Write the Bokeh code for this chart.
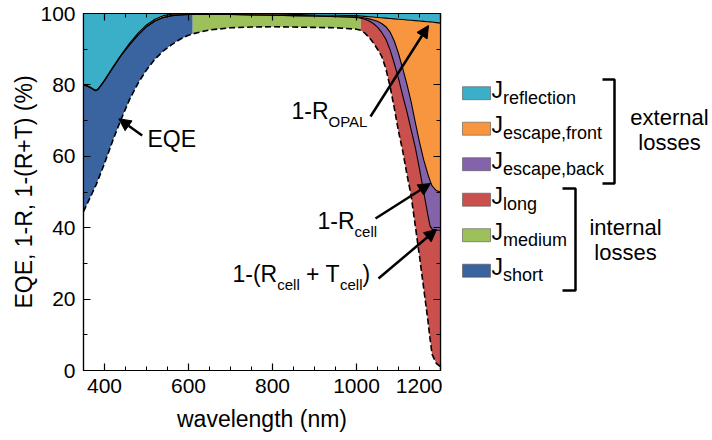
import numpy as np
from bokeh.plotting import figure
from bokeh.models import Range1d, LinearAxis, Arrow, NormalHead, SingleIntervalTicker, CustomJSTickFormatter
from bokeh.layouts import row
from bokeh.embed import file_html
from bokeh.resources import INLINE
from bokeh.core.properties import value

# ---------------- data ----------------
wavelength = [350, 360, 370, 375, 380, 385, 390, 400, 420, 440, 460, 480, 500, 520, 540, 560, 580, 600,
              610, 650, 700, 750, 800, 850, 900, 950, 1000, 1010, 1020, 1030, 1040, 1050, 1060, 1070,
              1080, 1090, 1100, 1110, 1120, 1130, 1140, 1150, 1160, 1170, 1175, 1180, 1190, 1200]

eqe = [44.5, 47.0, 49.5, 50.8, 52.0, 53.5, 55.0, 58.0, 64.5, 70.5, 76.0, 80.5, 84.2, 87.2, 89.5, 91.3, 92.8, 93.9,
       94.3, 95.4, 96.0, 96.2, 96.3, 96.2, 96.1, 96.0, 95.6, 95.3, 94.5, 93.3, 91.8, 90.0, 88.0, 84.5,
       79.5, 73.5, 67.0, 61.5, 55.0, 49.0, 40.5, 32.0, 23.0, 14.0, 9.0, 4.5, 2.0, 1.0]

one_minus_RT = [80.0, 79.6, 79.0, 78.6, 78.4, 78.8, 79.6, 81.2, 84.8, 88.3, 91.3, 94.0, 96.3, 97.9, 98.9, 99.4, 99.6, 99.7,
                99.7, 99.7, 99.7, 99.6, 99.5, 99.4, 99.3, 99.1, 98.9, 98.7, 98.4, 97.9, 97.2, 96.2, 94.7, 92.8,
                89.8, 86.0, 81.8, 77.0, 72.5, 67.5, 62.5, 56.5, 50.0, 43.5, 40.5, 39.6, 39.3, 39.3]

one_minus_Rcell = [80.0, 79.6, 79.0, 78.6, 78.4, 78.8, 79.6, 81.2, 84.8, 88.3, 91.3, 94.0, 96.3, 97.9, 98.9, 99.4, 99.6, 99.7,
                   99.7, 99.7, 99.7, 99.6, 99.5, 99.4, 99.3, 99.15, 99.1, 98.95, 98.75, 98.5, 98.2, 97.8, 97.2, 96.3,
                   94.8, 92.3, 88.8, 84.6, 80.2, 75.3, 69.5, 64.0, 59.0, 55.0, 53.2, 51.7, 50.4, 50.0]

one_minus_Ropal = [80.1, 79.7, 79.1, 78.7, 78.5, 78.9, 79.7, 81.3, 85.0, 88.5, 91.7, 94.5, 96.8, 98.4, 99.4, 99.8, 99.9, 99.95,
                   99.95, 99.95, 99.95, 99.9, 99.85, 99.75, 99.6, 99.5, 99.4, 99.3, 99.2, 99.1, 99.0, 98.9, 98.8, 98.7,
                   98.6, 98.5, 98.4, 98.3, 98.2, 98.1, 98.0, 97.9, 97.8, 97.7, 97.65, 97.6, 97.45, 97.3]

short_end = 610     # nm, boundary J_short / J_medium
medium_end = 1010   # nm, boundary J_medium / J_long

legend_keys = ["reflection", "escape,front", "escape,back", "long", "medium", "short"]
legend_colors = ["#3BAFC8", "#F7963F", "#8563AA", "#C9504C", "#9CC15B", "#3964A0"]
C_REFL, C_FRONT, C_BACK, C_LONG, C_MED, C_SHORT = legend_colors

x_tick_interval = 200
y_tick_interval = 20

FONT = "Liberation Sans"

# ---------------- main plot ----------------
W1 = 442
wl = np.array(wavelength, dtype=float)
e = np.array(eqe)
art = np.array(one_minus_RT)
rc = np.array(one_minus_Rcell)
ro = np.array(one_minus_Ropal)

p = figure(width=W1, height=440, x_range=Range1d(350, 1200), y_range=Range1d(0, 100),
           output_backend="svg", toolbar_location=None,
           min_border_left=83, min_border_right=2, min_border_top=13, min_border_bottom=70)
p.xgrid.visible = False
p.ygrid.visible = False
p.outline_line_color = "black"
p.outline_line_width = 1.2

m_s = wl <= short_end
m_m = (wl >= short_end) & (wl <= medium_end)
m_l = wl >= medium_end
p.varea(x=wl[m_s], y1=e[m_s], y2=art[m_s], fill_color=C_SHORT)
p.varea(x=wl[m_m], y1=e[m_m], y2=art[m_m], fill_color=C_MED)
p.varea(x=wl[m_l], y1=e[m_l], y2=art[m_l], fill_color=C_LONG)
p.varea(x=wl, y1=art, y2=rc, fill_color=C_BACK)
p.varea(x=wl, y1=rc, y2=ro, fill_color=C_FRONT)
p.varea(x=wl, y1=ro, y2=[100] * len(wl), fill_color=C_REFL)

p.line(wl, ro, line_color="black", line_width=1.1)
p.line(wl, rc, line_color="black", line_width=1.1)
p.line(wl, art, line_color="black", line_width=1.1)
p.line(wl, e, line_color="black", line_width=1.6, line_dash="6 3")


def style_axis(ax, labels=True):
    ax.axis_line_color = "black"
    ax.axis_line_width = 1.2
    ax.major_tick_in = 7
    ax.major_tick_out = 0
    ax.minor_tick_in = 4
    ax.minor_tick_out = 0
    ax.major_tick_line_color = "black"
    ax.minor_tick_line_color = "black"
    ax.major_tick_line_width = 1.2
    ax.minor_tick_line_width = 1.0
    if labels:
        ax.major_label_text_font = FONT
        ax.major_label_text_font_size = "21px"
        ax.major_label_text_color = "black"
        ax.axis_label_text_font = FONT
        ax.axis_label_text_font_size = "23px"
        ax.axis_label_text_font_style = "normal"
        ax.axis_label_text_color = "black"
    else:
        ax.formatter = CustomJSTickFormatter(code="return ''")
        ax.major_label_text_font_size = "2px"
        ax.major_label_standoff = 0


xt = SingleIntervalTicker(interval=x_tick_interval, num_minor_ticks=4)
yt = SingleIntervalTicker(interval=y_tick_interval, num_minor_ticks=2)
p.xaxis.ticker = xt
p.yaxis.ticker = yt
p.xaxis.axis_label = "wavelength (nm)"
p.yaxis.axis_label = "EQE, 1-R, 1-(R+T) (%)"
for ax in p.xaxis + p.yaxis:
    style_axis(ax)
p.xaxis.major_label_standoff = 8
p.xaxis.axis_label_standoff = 10
p.yaxis.major_label_standoff = 8
p.yaxis.axis_label_standoff = 0

top_ax = LinearAxis(ticker=SingleIntervalTicker(interval=x_tick_interval, num_minor_ticks=4))
right_ax = LinearAxis(ticker=SingleIntervalTicker(interval=y_tick_interval, num_minor_ticks=2))
style_axis(top_ax, labels=False)
style_axis(right_ax, labels=False)
p.add_layout(top_ax, "above")
p.add_layout(right_ax, "right")

# pixel -> data helpers for annotation placement
def dx(px):
    return 350 + (px - 83) / (357 / 850)

def dy(py):
    return (370 - py) / 3.57

ARIAL = {"1": .556, "-": .333, "(": .333, ")": .333, "R": .722, "T": .611, "+": .584, " ": .278,
         "c": .5, "e": .556, "l": .222, "O": .778, "P": .667, "A": .667, "L": .556, "J": .5}

def tw(s, size):
    return sum(ARIAL.get(ch, .556) for ch in s) * size

BIG, SUB = 23, 15
SHIFT = 0.42  # empirical baseline correction (fraction of font size)

def rich(fig, x0, base, parts, xf=lambda v: v, yf=lambda v: v, big=BIG, sub=SUB, drop=7):
    x = x0
    for txt, is_sub in parts:
        size = sub if is_sub else big
        lead = len(txt) - len(txt.lstrip(" "))
        x += tw(" " * lead, size)
        t = txt.strip(" ")
        yb = base + (drop if is_sub else 0) - SHIFT * size
        fig.text(x=[xf(x)], y=[yf(yb)], text=[t],
                 text_font=value(FONT), text_font_size=value(f"{size}px"),
                 text_baseline="alphabetic", text_align="left", text_color="black")
        x += tw(t, size)

rich(p, 147, 148, [("EQE", False)], dx, dy)
rich(p, 291, 120, [("1-R", False), ("OPAL", True)], dx, dy)
rich(p, 317, 230, [("1-R", False), ("cell", True)], dx, dy)
rich(p, 232, 283, [("1-(R", False), ("cell", True), (" + T", False), ("cell", True), (")", False)], dx, dy)

arrows = [((141.7, 135), (118.3, 118.3)),
          ((370, 116), (428, 25)),
          ((375, 218), (430, 183)),
          ((378, 278), (436, 229))]
for (x0, y0), (x1, y1) in arrows:
    p.add_layout(Arrow(end=NormalHead(size=12, fill_color="black", line_color="black"),
                       x_start=dx(x0), y_start=dy(y0), x_end=dx(x1), y_end=dy(y1),
                       line_width=2.5, line_color="black"))

# ---------------- legend panel (frame aligned with the main frame: 13..370 px) ----------------
q = figure(width=712 - W1, height=440, x_range=Range1d(W1, 712), y_range=Range1d(370, 13),
           x_axis_location=None, y_axis_location=None, min_border=0,
           outline_line_color=None, toolbar_location=None, output_backend="svg")
q.grid.visible = False

centers = [92.7 + i * 35.5 for i in range(len(legend_keys))]
q.quad(left=[462] * 6, right=[490] * 6, top=[c - 6.5 for c in centers], bottom=[c + 6.5 for c in centers],
       fill_color=legend_colors, line_color="#555555", line_alpha=0.6, line_width=1)
for key, c in zip(legend_keys, centers):
    rich(q, 491, c + 6, [("J", False), (key, True)], big=23, sub=18, drop=6)

q.multi_line(xs=[[602, 614, 614, 602], [562, 575, 575, 562]],
             ys=[[79, 79, 183, 183], [188, 188, 290, 290]], line_color="black", line_width=2.5)
q.text(x=[669, 669, 625, 625], y=[126 - SHIFT * 22, 151 - SHIFT * 22, 236 - SHIFT * 22, 261 - SHIFT * 22],
       text=["external", "losses", "internal", "losses"],
       text_font=value(FONT), text_font_size=value("22px"), text_align="center",
       text_baseline="alphabetic", text_color="black")

layout = row(p, q)
open("out.html", "w").write(file_html(layout, INLINE))
